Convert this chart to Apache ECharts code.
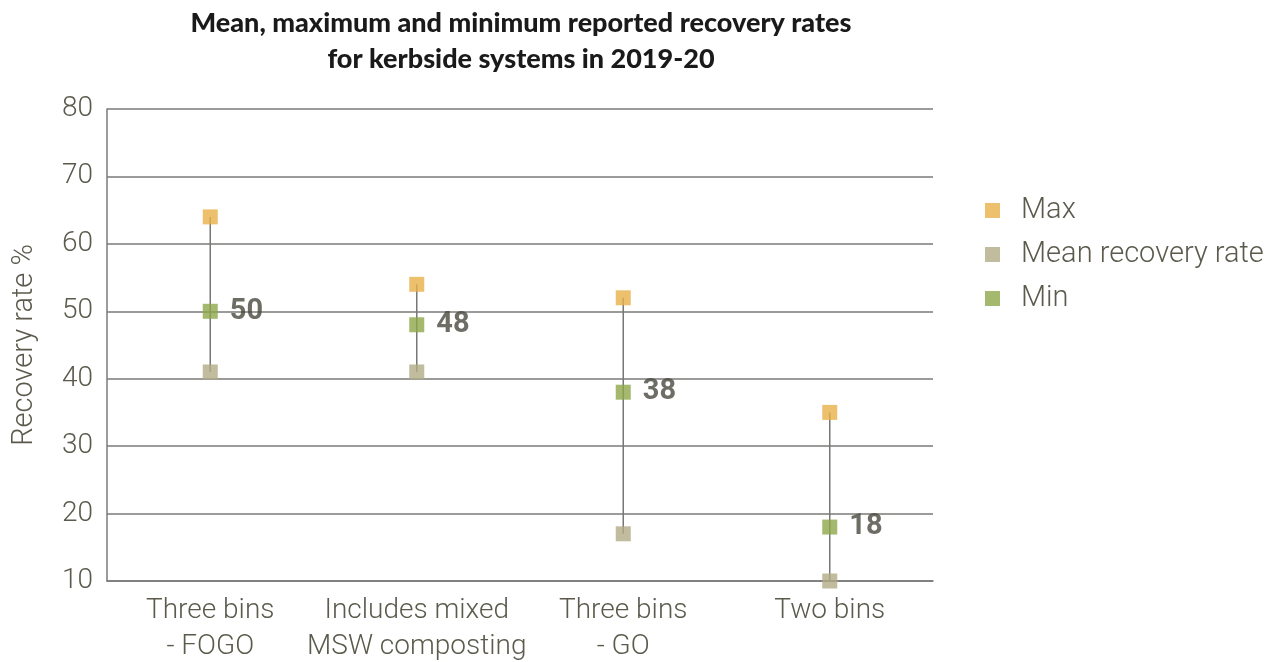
<!DOCTYPE html>
<html>
<head>
<meta charset="utf-8">
<script src="https://cdn.jsdelivr.net/npm/echarts@6/dist/echarts.min.js"></script>
<style>
html,body{margin:0;padding:0;background:#fff;}
#chart{width:1279px;height:662px;}
</style>
</head>
<body>
<div id="chart"></div>
<script>
var categories = ['Three bins\n- FOGO', 'Includes mixed\nMSW composting', 'Three bins\n- GO', 'Two bins'];
var maxValues = [64, 54, 52, 35];
var meanValues = [41, 41, 17, 10];
var minValues = [50, 48, 38, 18];
var yTicks = [10, 20, 30, 40, 50, 60, 70, 80];

var textColor = '#5b5a4c';
var lineColor = '#7a7a78';
var chart = echarts.init(document.getElementById('chart'));

var rangeData = categories.map(function (c, i) { return [i, maxValues[i], meanValues[i]]; });

chart.setOption({
  animation: false,
  title: {
    text: 'Mean, maximum and minimum reported recovery rates\nfor kerbside systems in 2019-20',
    left: 516, top: 0, textAlign: 'center',
    textStyle: { fontFamily: 'Lato', fontWeight: 900, fontSize: 27, color: '#1a1a1a', lineHeight: 36 }
  },
  legend: {
    orient: 'vertical', left: 980, top: 191, itemGap: 15,
    itemWidth: 15, itemHeight: 15, icon: 'rect',
    data: ['Max', 'Mean recovery rate', 'Min'],
    textStyle: { fontFamily: 'Roboto', fontWeight: 300, fontSize: 29, color: textColor, padding: [0, 0, 0, 16] }
  },
  grid: { left: 107, right: 346, top: 109, bottom: 81, outerBoundsMode: 'none' },
  xAxis: {
    type: 'category', data: categories,
    axisLine: { lineStyle: { color: lineColor, width: 1.5 } },
    axisTick: { inside: true, length: 10, lineStyle: { color: lineColor, width: 1.5 } },
    axisLabel: { interval: 0, fontFamily: 'Roboto', fontWeight: 300, fontSize: 28, color: textColor, lineHeight: 36, margin: 12 }
  },
  yAxis: {
    type: 'value', min: yTicks[0], max: yTicks[yTicks.length - 1], interval: 10,
    name: 'Recovery rate %', nameLocation: 'middle', nameGap: 68, nameRotate: 90,
    nameTextStyle: { fontFamily: 'Roboto', fontWeight: 300, fontSize: 29, color: textColor },
    axisLine: { show: true, lineStyle: { color: lineColor, width: 1.5 } },
    axisTick: { show: false },
    axisLabel: { fontFamily: 'Roboto', fontWeight: 300, fontSize: 28, color: textColor, margin: 14 },
    splitLine: { lineStyle: { color: lineColor, width: 1.5 } }
  },
  series: [
    {
      type: 'custom', name: 'range', silent: true, z: 1,
      data: rangeData,
      renderItem: function (params, api) {
        var top = api.coord([api.value(0), api.value(1)]);
        var bot = api.coord([api.value(0), api.value(2)]);
        return { type: 'line', shape: { x1: top[0], y1: top[1], x2: bot[0], y2: bot[1] },
                 style: { stroke: '#777773', lineWidth: 1.5 } };
      }
    },
    {
      type: 'scatter', name: 'Max', data: maxValues, symbol: 'rect', symbolSize: 15, z: 3,
      itemStyle: { color: '#e8b04a' }
    },
    {
      type: 'scatter', name: 'Mean recovery rate', data: meanValues, symbol: 'rect', symbolSize: 15, z: 3,
      itemStyle: { color: '#b0ab84' }, clip: false
    },
    {
      type: 'scatter', name: 'Min', data: minValues, symbol: 'rect', symbolSize: 15, z: 3,
      itemStyle: { color: '#8ea84a' },
      label: { show: true, position: 'right', distance: 12, fontFamily: 'Roboto', fontWeight: 'bold', fontSize: 29, color: '#4a493f' }
    }
  ]
});
</script>
</body>
</html>
